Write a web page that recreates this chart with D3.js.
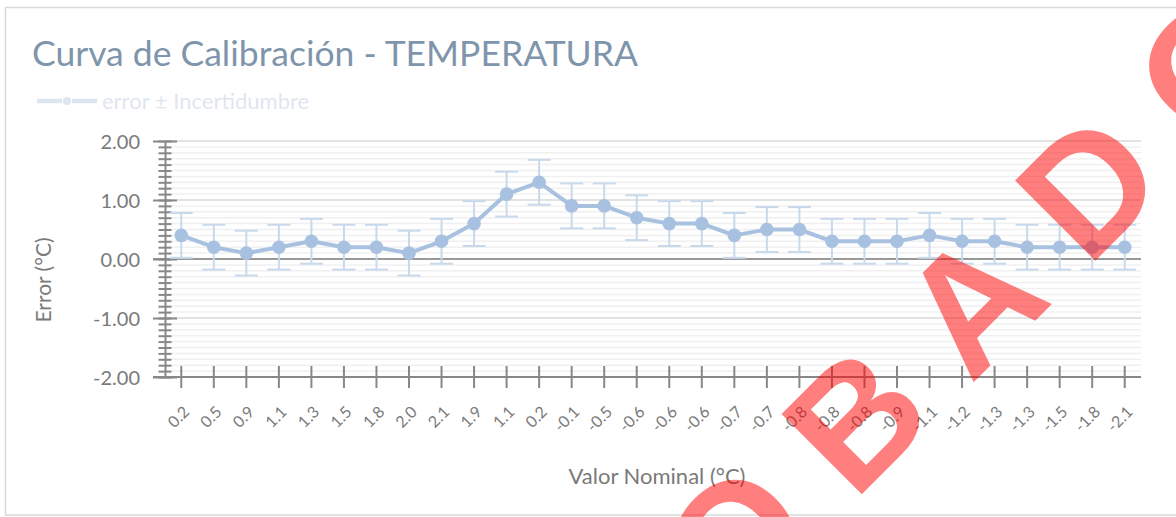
<!DOCTYPE html>
<html>
<head>
<meta charset="utf-8">
<script src="https://cdn.jsdelivr.net/npm/d3@7.9.0/dist/d3.min.js"></script>
<style>
  body { margin: 0; background: #fff; }
  svg { display: block; font-family: Lato, 'Open Sans', sans-serif; }
</style>
</head>
<body>
<svg id="chart" width="1176" height="517"></svg>
<script>
// nominal values shown on the x axis (repeats are real)
const categories = ['0.2', '0.5', '0.9', '1.1', '1.3', '1.5', '1.8', '2.0', '2.1', '1.9',
  '1.1', '0.2', '-0.1', '-0.5', '-0.6', '-0.6', '-0.6', '-0.7', '-0.7', '-0.8',
  '-0.8', '-0.8', '-0.9', '-1.1', '-1.2', '-1.3', '-1.3', '-1.5', '-1.8', '-2.1'];

const errorValues = [0.4, 0.2, 0.1, 0.2, 0.3, 0.2, 0.2, 0.1, 0.3, 0.6,
  1.1, 1.3, 0.9, 0.9, 0.7, 0.6, 0.6, 0.4, 0.5, 0.5,
  0.3, 0.3, 0.3, 0.4, 0.3, 0.3, 0.2, 0.2, 0.2, 0.2];

const uncertainty = [0.38, 0.38, 0.38, 0.38, 0.38, 0.38, 0.38, 0.38, 0.38, 0.38,
  0.38, 0.38, 0.38, 0.38, 0.38, 0.38, 0.38, 0.38, 0.38, 0.38,
  0.38, 0.38, 0.38, 0.38, 0.38, 0.38, 0.38, 0.38, 0.38, 0.38];

const yTicks = [-2, -1, 0, 1, 2];
const yMinorTicks = d3.range(-20, 21).map((d) => d / 10);

const svg = d3.select('#chart');
const grey = '#888';
const lineColor = '#a8c1e0';
const barColor = '#c9d9ec';

// outer frame
svg.append('rect')
  .attr('x', 5.5).attr('y', 7.5)
  .attr('width', 1200).attr('height', 507.5)
  .attr('fill', 'none').attr('stroke', '#d9d9d9').attr('stroke-width', 1.5);

const x = d3.scaleBand().domain(d3.range(categories.length)).range([165, 1141]);
const y = d3.scaleLinear().domain([-2, 2]).range([377, 141]);

// grid
svg.append('g')
  .selectAll('line')
  .data(yMinorTicks)
  .join('line')
  .attr('x1', 165).attr('x2', 1141)
  .attr('y1', (d) => y(d)).attr('y2', (d) => y(d))
  .attr('stroke', (d) => (Number.isInteger(d) ? '#e2e2e2' : '#f0f0f0'))
  .attr('stroke-width', (d) => (Number.isInteger(d) ? 2 : 1.5));

// zero line
svg.append('line')
  .attr('x1', 153).attr('x2', 1141)
  .attr('y1', y(0)).attr('y2', y(0))
  .attr('stroke', '#999').attr('stroke-width', 2);

// y axis: minor ticks then major ticks, both crossing the line
const yMinor = svg.append('g')
  .attr('transform', 'translate(165,0)')
  .call(d3.axisLeft(y).tickValues(yMinorTicks).tickFormat('').tickSizeOuter(0));
yMinor.select('.domain').remove();
yMinor.selectAll('.tick line').attr('x1', -6.5).attr('x2', 6.5)
  .attr('stroke', grey).attr('stroke-width', 2);

const yAxis = svg.append('g')
  .attr('transform', 'translate(165,0)')
  .call(d3.axisLeft(y).tickValues(yTicks).tickFormat((d) => d.toFixed(2)).tickSizeOuter(0));
yAxis.select('.domain').attr('stroke', grey).attr('stroke-width', 2);
yAxis.selectAll('.tick line').attr('x1', -12).attr('x2', 12)
  .attr('stroke', grey).attr('stroke-width', 2);
yAxis.selectAll('.tick text')
  .attr('x', -25).attr('dy', '0.36em')
  .attr('fill', '#7a7a7a').style('font-size', '20px').style('font-family', 'Lato');

// x axis
const xAxis = svg.append('g')
  .attr('transform', 'translate(0,377)')
  .call(d3.axisBottom(x).tickFormat((i) => categories[i]).tickSizeOuter(0));
xAxis.select('.domain').attr('d', 'M153,0H1141').attr('stroke', grey).attr('stroke-width', 2);
xAxis.selectAll('.tick line').attr('y1', -11).attr('y2', 11)
  .attr('stroke', grey).attr('stroke-width', 2);
xAxis.selectAll('.tick text')
  .attr('y', 0).attr('dy', 0)
  .attr('transform', 'translate(9,36) rotate(-45)')
  .attr('text-anchor', 'end')
  .attr('fill', '#7a7a7a').style('font-size', '16px').style('font-family', 'Lato');

// axis titles
svg.append('text')
  .attr('x', 657).attr('y', 484)
  .attr('text-anchor', 'middle')
  .attr('fill', '#7a7a7a').style('font-size', '22px')
  .text('Valor Nominal (°C)');

svg.append('text')
  .attr('transform', 'translate(51,280) rotate(-90)')
  .attr('text-anchor', 'middle')
  .attr('fill', '#7a7a7a').style('font-size', '21px')
  .text('Error (°C)');

// error bars
const cx = (i) => x(i) + x.bandwidth() / 2;
const bars = svg.append('g')
  .selectAll('g')
  .data(errorValues)
  .join('g')
  .attr('stroke', barColor).attr('stroke-width', 2);
bars.append('line')
  .attr('x1', (d, i) => cx(i)).attr('x2', (d, i) => cx(i))
  .attr('y1', (d, i) => y(d + uncertainty[i])).attr('y2', (d, i) => y(d - uncertainty[i]));
bars.append('line')
  .attr('x1', (d, i) => cx(i) - 11.5).attr('x2', (d, i) => cx(i) + 11.5)
  .attr('y1', (d, i) => y(d + uncertainty[i])).attr('y2', (d, i) => y(d + uncertainty[i]));
bars.append('line')
  .attr('x1', (d, i) => cx(i) - 11.5).attr('x2', (d, i) => cx(i) + 11.5)
  .attr('y1', (d, i) => y(d - uncertainty[i])).attr('y2', (d, i) => y(d - uncertainty[i]));

// series line and markers
const line = d3.line().x((d, i) => cx(i)).y((d) => y(d));
svg.append('path')
  .datum(errorValues)
  .attr('d', line)
  .attr('fill', 'none').attr('stroke', lineColor).attr('stroke-width', 4)
  .attr('stroke-linejoin', 'round');
svg.append('g')
  .selectAll('circle')
  .data(errorValues)
  .join('circle')
  .attr('cx', (d, i) => cx(i)).attr('cy', (d) => y(d))
  .attr('r', 6.8).attr('fill', lineColor);

// title, sized to its width in the original
const title = svg.append('text')
  .attr('x', 32).attr('y', 66)
  .attr('fill', '#7f95ab').style('font-size', '34px')
  .text('Curva de Calibración - TEMPERATURA');
const tw = title.node().getComputedTextLength();
title.style('font-size', (34 * 606 / tw).toFixed(2) + 'px');

// legend
const legend = svg.append('g').attr('transform', 'translate(0,101)');
legend.append('line').attr('x1', 37).attr('x2', 62).attr('stroke', '#dde5f0').attr('stroke-width', 4.5);
legend.append('line').attr('x1', 72).attr('x2', 97).attr('stroke', '#dde5f0').attr('stroke-width', 4.5);
legend.append('circle').attr('cx', 67).attr('r', 4).attr('fill', '#dde5f0');
legend.append('text')
  .attr('x', 102).attr('y', 7.5)
  .attr('fill', '#dfe6f0').style('font-size', '22px')
  .text('error ± Incertidumbre');

// stamp across the chart
const stamp = svg.append('g').attr('transform', 'translate(854,502) rotate(-45)');
const stampText = stamp.append('text')
  .attr('fill', 'red').attr('fill-opacity', 0.5)
  .style('font-family', "'Liberation Sans', Arial, sans-serif")
  .style('font-weight', 'bold').style('font-size', '165px')
  .style('letter-spacing', '46px')
  .text('APROBADO');
const bStart = stampText.node().getStartPositionOfChar(4);
stampText.attr('x', -bStart.x);
</script>
</body>
</html>
